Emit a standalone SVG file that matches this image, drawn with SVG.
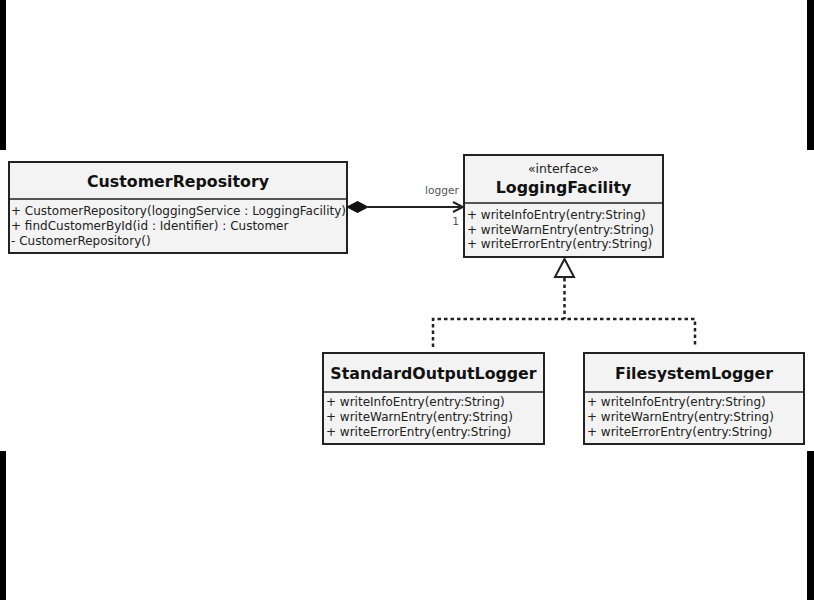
<svg xmlns="http://www.w3.org/2000/svg" width="814" height="600" viewBox="0 0 814 600">
<defs>
<style>
.box{fill:#f3f3f3;stroke:#222;stroke-width:2}
.div{stroke:#222;stroke-width:1.5}
.title{font-family:"DejaVu Sans",Verdana,sans-serif;font-weight:bold;font-size:15.8px;fill:#111;text-anchor:middle}
.stereo{font-family:"DejaVu Sans",Verdana,sans-serif;font-size:12.5px;fill:#222;text-anchor:middle}
.m{font-family:"DejaVu Sans",Verdana,sans-serif;font-size:12px;fill:#222}
.lbl{font-family:"DejaVu Sans",Verdana,sans-serif;font-size:10.7px;fill:#555}
.line{fill:none;stroke:#222;stroke-width:2}
.dash{fill:none;stroke:#222;stroke-width:2.5;stroke-dasharray:3.5 3}
</style>
<marker id="open" viewBox="0 0 12 12" refX="11" refY="6" markerWidth="12" markerHeight="12" markerUnits="userSpaceOnUse" orient="auto">
<path d="M1,1 L11,6 L1,11" fill="none" stroke="#222" stroke-width="2"/>
</marker>
</defs>
<rect x="0" y="0" width="814" height="600" fill="#fff"/>
<rect x="0" y="0" width="6" height="150" fill="#000"/>
<rect x="807" y="0" width="7" height="150" fill="#000"/>
<rect x="0" y="451" width="6" height="149" fill="#000"/>
<rect x="807" y="451" width="7" height="149" fill="#000"/>

<g id="CustomerRepository">
<rect class="box" x="9" y="162" width="338" height="91"/>
<line class="div" x1="9" y1="199" x2="347" y2="199"/>
<text class="title" x="178" y="187">CustomerRepository</text>
<text class="m" x="11" y="215">+ CustomerRepository(loggingService : LoggingFacility)</text>
<text class="m" x="11" y="230">+ findCustomerById(id : Identifier) : Customer</text>
<text class="m" x="11" y="245">- CustomerRepository()</text>
</g>

<g id="LoggingFacility">
<rect class="box" x="464" y="155" width="199" height="102"/>
<line class="div" x1="464" y1="203" x2="663" y2="203"/>
<text class="stereo" x="563.5" y="173">«interface»</text>
<text class="title" x="563.5" y="193">LoggingFacility</text>
<text class="m" x="467" y="219">+ writeInfoEntry(entry:String)</text>
<text class="m" x="467" y="234">+ writeWarnEntry(entry:String)</text>
<text class="m" x="467" y="248">+ writeErrorEntry(entry:String)</text>
</g>

<g id="StandardOutputLogger">
<rect class="box" x="323" y="353" width="221" height="91"/>
<line class="div" x1="323" y1="392" x2="544" y2="392"/>
<text class="title" x="433.5" y="379">StandardOutputLogger</text>
<text class="m" x="326" y="406">+ writeInfoEntry(entry:String)</text>
<text class="m" x="326" y="421">+ writeWarnEntry(entry:String)</text>
<text class="m" x="326" y="436">+ writeErrorEntry(entry:String)</text>
</g>

<g id="FilesystemLogger">
<rect class="box" x="584" y="353" width="220" height="91"/>
<line class="div" x1="584" y1="392" x2="804" y2="392"/>
<text class="title" x="694" y="379">FilesystemLogger</text>
<text class="m" x="587" y="406">+ writeInfoEntry(entry:String)</text>
<text class="m" x="587" y="421">+ writeWarnEntry(entry:String)</text>
<text class="m" x="587" y="436">+ writeErrorEntry(entry:String)</text>
</g>

<g id="connectors">
<line class="line" x1="368" y1="207" x2="463" y2="207" marker-end="url(#open)"/>
<path d="M347,207 L357.5,201.5 L368,207 L357.5,212.5 Z" fill="#111" stroke="#111" stroke-width="1"/>
<text class="lbl" x="459" y="194" text-anchor="end">logger</text>
<text class="lbl" x="459" y="225" text-anchor="end">1</text>
<path class="dash" d="M564.5,278 L564.5,319 M433,347 L433,319 L695,319 L695,347"/>
<path d="M564.5,259 L555,277 L574,277 Z" fill="#fff" stroke="#222" stroke-width="2"/>
</g>
</svg>
